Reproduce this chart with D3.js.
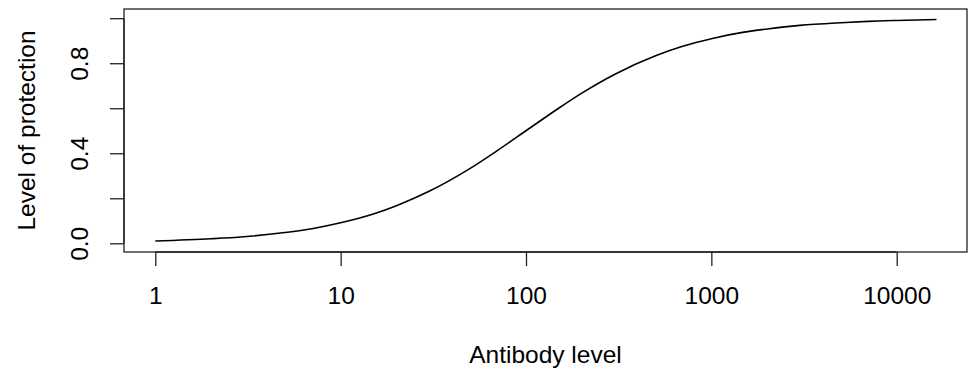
<!DOCTYPE html>
<html>
<head>
<meta charset="utf-8">
<script src="https://cdn.jsdelivr.net/npm/d3@7"></script>
<style>
  html, body { margin: 0; padding: 0; background: #fff; }
  svg { display: block; }
  text { font-family: "Liberation Sans", Arial, sans-serif; fill: #000; }
</style>
</head>
<body>
<svg id="chart" width="969" height="369"></svg>
<script>
// Antibody level (log scale) and corresponding level of protection
const antibodyLevel = [1, 2, 3, 5, 7, 10, 15, 20, 30, 50, 70, 100, 150, 200, 300,
                       500, 700, 1000, 1500, 2000, 3000, 5000, 7000, 10000, 16384];
const protection    = [0.010, 0.020, 0.029, 0.048, 0.065, 0.091, 0.130, 0.167, 0.231,
                       0.333, 0.412, 0.500, 0.600, 0.667, 0.750, 0.833, 0.875, 0.909,
                       0.938, 0.952, 0.968, 0.980, 0.986, 0.990, 0.994];

const xTicks = [1, 10, 100, 1000, 10000];
const yTicks = [0, 0.2, 0.4, 0.6, 0.8, 1.0];
const yTickLabels = ["0.0", "", "0.4", "", "0.8", ""];

const box = { left: 124, top: 9, right: 967, bottom: 252 };
const fontSize = 24.5;

const svg = d3.select("#chart");

const x = d3.scaleLog().domain([1, 10000]).range([155.3, 896.7]);
const y = d3.scaleLinear().domain([0, 1]).range([243.3, 18.2]);

// plot frame
svg.append("rect")
  .attr("x", box.left).attr("y", box.top)
  .attr("width", box.right - box.left).attr("height", box.bottom - box.top)
  .attr("fill", "none").attr("stroke", "#222").attr("stroke-width", 1.3);

// x axis
const xAxis = d3.axisBottom(x)
  .tickValues(xTicks)
  .tickFormat(d3.format("d"))
  .tickSize(14)
  .tickPadding(20.5)
  .tickSizeOuter(0);
const gx = svg.append("g").attr("transform", `translate(0,${box.bottom})`).call(xAxis);
gx.select(".domain").attr("d", `M${x(1)},0H${x(10000)}`).attr("stroke", "#222").attr("stroke-width", 1.3);
gx.selectAll(".tick line").attr("stroke", "#222").attr("stroke-width", 1.3);
gx.selectAll(".tick text")
  .attr("font-size", fontSize).attr("font-family", "Liberation Sans, Arial, sans-serif")
  .attr("fill", "#000");

// y axis
const yAxis = d3.axisLeft(y)
  .tickValues(yTicks)
  .tickFormat((d, i) => yTickLabels[i])
  .tickSize(14)
  .tickPadding(22)
  .tickSizeOuter(0);
const gy = svg.append("g").attr("transform", `translate(${box.left},0)`).call(yAxis);
gy.select(".domain").attr("d", `M0,${y(0)}V${y(1)}`).attr("stroke", "#222").attr("stroke-width", 1.3);
gy.selectAll(".tick line").attr("stroke", "#222").attr("stroke-width", 1.3);
gy.selectAll(".tick text")
  .attr("font-size", fontSize).attr("font-family", "Liberation Sans, Arial, sans-serif")
  .attr("fill", "#000")
  .attr("text-anchor", "middle")
  .attr("x", null)
  .attr("transform", "translate(-36.5,0) rotate(-90)")
  .attr("y", 0)
  .attr("dy", "0");

// axis titles
svg.append("text")
  .attr("x", (box.left + box.right) / 2).attr("y", 363)
  .attr("text-anchor", "middle").attr("font-size", fontSize)
  .text("Antibody level");

svg.append("text")
  .attr("transform", `translate(35,${(box.top + box.bottom) / 2}) rotate(-90)`)
  .attr("text-anchor", "middle").attr("font-size", fontSize)
  .text("Level of protection");

// protection curve
const line = d3.line()
  .x((d, i) => x(antibodyLevel[i]))
  .y(d => y(d))
  .curve(d3.curveMonotoneX);

svg.append("path")
  .datum(protection)
  .attr("d", line)
  .attr("fill", "none")
  .attr("stroke", "#000")
  .attr("stroke-width", 1.6);
</script>
</body>
</html>
